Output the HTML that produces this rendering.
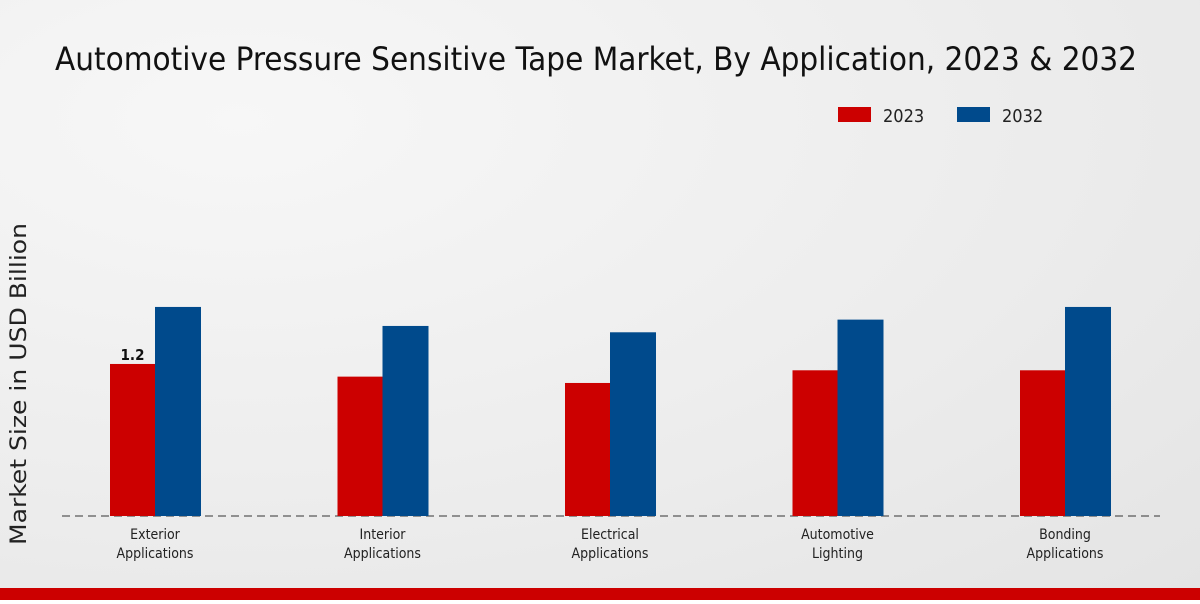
<!DOCTYPE html>
<html><head><meta charset="utf-8"><style>
body{margin:0;width:1200px;height:600px;overflow:hidden;font-family:"DejaVu Sans Condensed","DejaVu Sans","Liberation Sans",sans-serif}
#wrap{position:relative;width:1200px;height:600px;background:radial-gradient(ellipse at 20% 20%,#f7f7f7 0%,#ececec 60%,#e4e4e4 100%)}
text{font-family:"DejaVu Sans Condensed","DejaVu Sans","Liberation Sans",sans-serif}
</style></head><body>
<div id="wrap">
<svg id="chart" width="1200" height="600">
<text x="596" y="70" text-anchor="middle" font-size="32" fill="#111" textLength="1082" lengthAdjust="spacingAndGlyphs">Automotive Pressure Sensitive Tape Market, By Application, 2023 &amp; 2032</text>
<g>
<rect x="838" y="107" width="33" height="15" fill="#cc0000"/>
<text x="883" y="122" font-size="18" fill="#222">2023</text>
<rect x="957" y="107" width="33" height="15" fill="#004a8c"/>
<text x="1002" y="122" font-size="18" fill="#222">2032</text>
</g>
<text transform="translate(26,384) rotate(-90)" text-anchor="middle" font-size="22" fill="#222" textLength="322" lengthAdjust="spacingAndGlyphs">Market Size in USD Billion</text>
<line x1="62" y1="516" x2="1160" y2="516" stroke="#333" stroke-dasharray="8,5"/>
<g id="bars"></g>
</svg>
<div style="position:absolute;left:0;top:588px;width:1200px;height:12px;background:#cc0000"></div>
</div>
<script>
const categories=[["Exterior","Applications"],["Interior","Applications"],["Electrical","Applications"],["Automotive","Lighting"],["Bonding","Applications"]];
const values2023=[1.2,1.1,1.05,1.15,1.15];
const values2032=[1.65,1.5,1.45,1.55,1.65];
const labelShown=[1.2,null,null,null,null];
const NS="http://www.w3.org/2000/svg";
const g=document.getElementById("bars");
const base=516,scale=126.7;
function xc(i){return 155+i*227.5;}
function y(v){return base-v*scale;}
function el(t,a){const e=document.createElementNS(NS,t);for(const k in a)e.setAttribute(k,a[k]);g.appendChild(e);return e;}
categories.forEach((c,i)=>{
 const r1=el("rect",{x:xc(i)-45,y:y(values2023[i]),width:45,height:base-y(values2023[i]),fill:"#cc0000"});
 
 
 const r2=el("rect",{x:xc(i),y:y(values2032[i]),width:46,height:base-y(values2032[i]),fill:"#004a8c"});
 
 
 if(labelShown[i]!=null){
  const t=el("text",{x:xc(i)-22.5,y:y(values2023[i])-4,"text-anchor":"middle","font-size":"15","font-weight":"bold",fill:"#111"});
  t.textContent=labelShown[i];
  
  
 }
 c.forEach((line,j)=>{
  const t=el("text",{x:xc(i),y:539+j*19,"text-anchor":"middle","font-size":"14",fill:"#222"});
  t.textContent=line;
  
  
 });
});
</script>
</body></html>
